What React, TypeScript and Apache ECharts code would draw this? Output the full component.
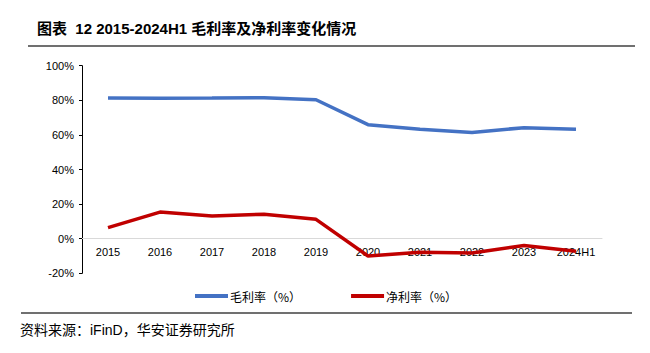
import React, { useEffect, useRef } from "react";
import * as echarts from "echarts";

const categories = ["2015", "2016", "2017", "2018", "2019", "2020", "2021", "2022", "2023", "2024H1"];
const grossMargin = [81.3, 81.2, 81.3, 81.5, 80.3, 65.9, 63.2, 61.4, 64.2, 63.2];
const netMargin = [6.4, 15.4, 13.1, 14.2, 11.2, -10.0, -7.9, -8.3, -3.9, -7.3];
const seriesNames = ["毛利率（%）", "净利率（%）"];
const titleText = "图表  12 2015-2024H1 毛利率及净利率变化情况";
const sourceText = "资料来源：iFinD，华安证券研究所";

const LATIN = '"Liberation Sans", Arial, "Noto Sans CJK SC", sans-serif';

export default function App() {
  const ref = useRef<HTMLDivElement>(null);
  useEffect(() => {
    document.body.style.margin = "0";
    const chart = echarts.init(ref.current!, null, { renderer: "svg" });
    chart.setOption({
      animation: false,
      backgroundColor: "#ffffff",
      grid: { left: 82, right: 48, top: 65.7, bottom: 79.7, containLabel: false },
      xAxis: {
        type: "category",
        data: categories,
        boundaryGap: true,
        offset: -35,
        axisLine: { onZero: false, lineStyle: { color: "#d9d9d9", width: 1 } },
        axisTick: { show: false },
        axisLabel: { color: "#000", fontSize: 11, fontFamily: LATIN, margin: 8, interval: 0 },
        splitLine: { show: false },
      },
      yAxis: {
        type: "value",
        min: -20,
        max: 100,
        interval: 20,
        axisLine: { show: true, lineStyle: { color: "#000", width: 1 } },
        axisTick: { show: true, length: 3, lineStyle: { color: "#000" } },
        axisLabel: { color: "#000", fontSize: 11, fontFamily: LATIN, formatter: "{value}%", margin: 8 },
        splitLine: { show: false },
      },
      legend: {
        left: 190,
        top: 285,
        itemWidth: 33,
        itemHeight: 4,
        itemGap: 50,
        icon: "rect",
        textStyle: { fontSize: 12, color: "#000", fontFamily: '"Noto Sans CJK SC", sans-serif', padding: [0, 0, 0, -3] },
        data: seriesNames,
      },
      series: [
        {
          name: seriesNames[0],
          type: "line",
          data: grossMargin,
          symbol: "none",
          lineStyle: { color: "#4472C4", width: 3.5 },
          itemStyle: { color: "#4472C4" },
        },
        {
          name: seriesNames[1],
          type: "line",
          data: netMargin,
          symbol: "none",
          lineStyle: { color: "#C00000", width: 3.5 },
          itemStyle: { color: "#C00000" },
        },
      ],
      graphic: [
        {
          type: "text",
          left: 37,
          top: 21,
          style: {
            text: titleText,
            font: 'bold 15px "Liberation Sans", Arial, "Noto Sans CJK SC", sans-serif',
            fill: "#000",
          },
        },
        {
          type: "line",
          shape: { x1: 28, y1: 46, x2: 635, y2: 46 },
          style: { stroke: "#404040", lineWidth: 1.3 },
        },
        {
          type: "line",
          shape: { x1: 21, y1: 313, x2: 632, y2: 313 },
          style: { stroke: "#404040", lineWidth: 1.3 },
        },
        {
          type: "text",
          left: 20,
          top: 323,
          style: {
            text: sourceText,
            font: '14px "Liberation Sans", Arial, "Noto Sans CJK SC", sans-serif',
            fill: "#000",
          },
        },
      ],
    });
    return () => chart.dispose();
  }, []);
  return <div ref={ref} style={{ width: 650, height: 353 }} />;
}
